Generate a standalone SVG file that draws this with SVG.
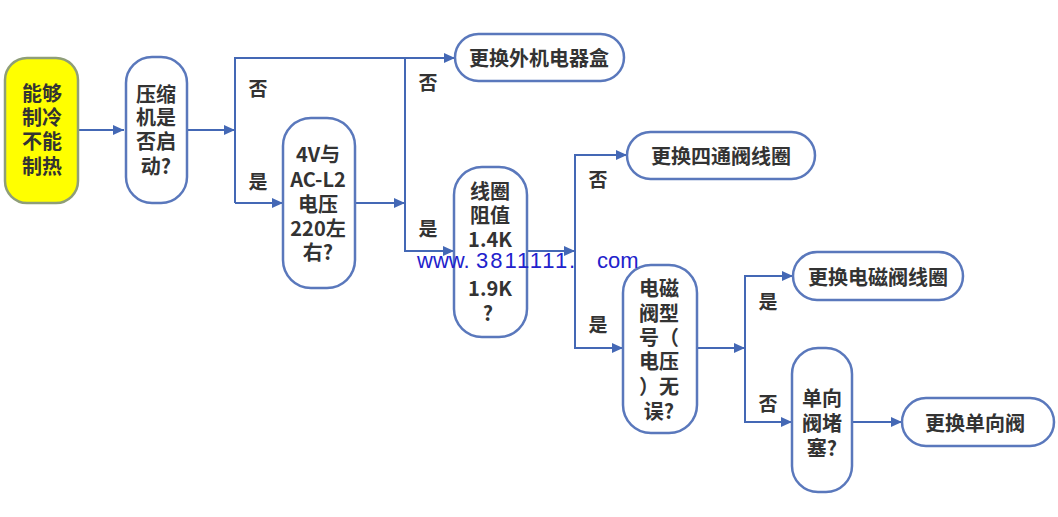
<svg xmlns="http://www.w3.org/2000/svg" width="1058" height="517" viewBox="0 0 1058 517">
<defs>
<marker id="ah" markerUnits="userSpaceOnUse" markerWidth="11" markerHeight="10" refX="11" refY="5" orient="auto">
<path d="M0,0 L11,5 L0,10 z" fill="#4468b5"/>
</marker>
<style>
.n{fill:#fff;stroke:#5a78bc;stroke-width:2.5}
.y{fill:#ffff00;stroke:#8f9e78;stroke-width:2.5}
.t{font-family:"Noto Sans CJK SC","Noto Sans",sans-serif;font-size:20px;font-weight:bold;fill:#333;text-anchor:middle;dominant-baseline:central}
.l{font-family:"Noto Sans CJK SC","Noto Sans",sans-serif;font-size:19px;font-weight:bold;fill:#333;text-anchor:middle;dominant-baseline:central}
.c{fill:none;stroke:#4468b5;stroke-width:2}
.w{font-family:"Liberation Sans",Arial,sans-serif;font-size:22px;fill:#2222cc}
</style>
</defs>
<rect width="1058" height="517" fill="#fff"/>
<g id="connectors">
<path class="c" d="M78,130 H124" marker-end="url(#ah)"/>
<path class="c" d="M187,130 H235" marker-end="url(#ah)"/>
<path class="c" d="M235,203 V58 H455" marker-end="url(#ah)"/>
<path class="c" d="M235,203 H283" marker-end="url(#ah)"/>
<path class="c" d="M355,203 H405" marker-end="url(#ah)"/>
<path class="c" d="M405,58 V251 H454" marker-end="url(#ah)"/>
<path class="c" d="M527,251 H575" marker-end="url(#ah)"/>
<path class="c" d="M575,251 V155 H627" marker-end="url(#ah)"/>
<path class="c" d="M575,251 V348 H623" marker-end="url(#ah)"/>
<path class="c" d="M697,348 H745" marker-end="url(#ah)"/>
<path class="c" d="M745,348 V276 H793" marker-end="url(#ah)"/>
<path class="c" d="M745,348 V422 H792" marker-end="url(#ah)"/>
<path class="c" d="M852,422 H902" marker-end="url(#ah)"/>
<text class="l" x="258" y="87">否</text>
<text class="l" x="258" y="180">是</text>
<text class="l" x="428" y="81">否</text>
<text class="l" x="428" y="227">是</text>
<text class="l" x="598" y="178">否</text>
<text class="l" x="598" y="323">是</text>
<text class="l" x="768" y="300">是</text>
<text class="l" x="768" y="402">否</text>
</g>
<g id="start">
<rect class="y" x="5" y="58" width="73" height="145" rx="22"/>
<text class="t"><tspan x="42" y="92">能够</tspan><tspan x="42" y="116">制冷</tspan><tspan x="42" y="140">不能</tspan><tspan x="42" y="165">制热</tspan></text>
</g>
<g id="compressor">
<rect class="n" x="126" y="57" width="61" height="146" rx="26"/>
<text class="t"><tspan x="156" y="93">压缩</tspan><tspan x="156" y="116">机是</tspan><tspan x="156" y="140">否启</tspan><tspan x="156" y="165">动?</tspan></text>
</g>
<g id="voltage">
<rect class="n" x="283" y="118" width="72" height="170" rx="28"/>
<text class="t"><tspan x="318" y="153">4V与</tspan><tspan x="318" y="178">AC-L2</tspan><tspan x="318" y="203">电压</tspan><tspan x="318" y="227">220左</tspan><tspan x="318" y="251">右?</tspan></text>
</g>
<g id="replace-box">
<rect class="n" x="455" y="34" width="169" height="47" rx="23.5"/>
<text class="t" x="539" y="57">更换外机电器盒</text>
</g>
<g id="coil">
<rect class="n" x="454" y="167" width="73" height="170" rx="28"/>
<text class="t"><tspan x="490" y="190">线圈</tspan><tspan x="490" y="214">阻值</tspan><tspan x="490" y="238">1.4K</tspan><tspan x="490" y="287">1.9K</tspan><tspan x="488" y="312">?</tspan></text>
</g>
<g id="replace-4way">
<rect class="n" x="627" y="132" width="188" height="47" rx="23.5"/>
<text class="t" x="721" y="155">更换四通阀线圈</text>
</g>
<g id="solenoid">
<rect class="n" x="623" y="265" width="74" height="168" rx="28"/>
<text class="t"><tspan x="659" y="287">电磁</tspan><tspan x="659" y="312">阀型</tspan><tspan x="659" y="336">号（</tspan><tspan x="659" y="360">电压</tspan><tspan x="659" y="385">）无</tspan><tspan x="659" y="410">误?</tspan></text>
</g>
<g id="replace-solenoid">
<rect class="n" x="793" y="252" width="170" height="48" rx="24"/>
<text class="t" x="878" y="276">更换电磁阀线圈</text>
</g>
<g id="check-valve">
<rect class="n" x="792" y="348" width="60" height="144" rx="26"/>
<text class="t"><tspan x="822" y="397">单向</tspan><tspan x="822" y="422">阀堵</tspan><tspan x="822" y="447">塞?</tspan></text>
</g>
<g id="replace-check">
<rect class="n" x="902" y="398" width="152" height="48" rx="24"/>
<text class="t" x="975" y="422">更换单向阀</text>
</g>
<text class="w" y="268"><tspan x="417">www.</tspan><tspan x="476" letter-spacing="2">3811111.</tspan><tspan x="597">com</tspan></text>
</svg>
